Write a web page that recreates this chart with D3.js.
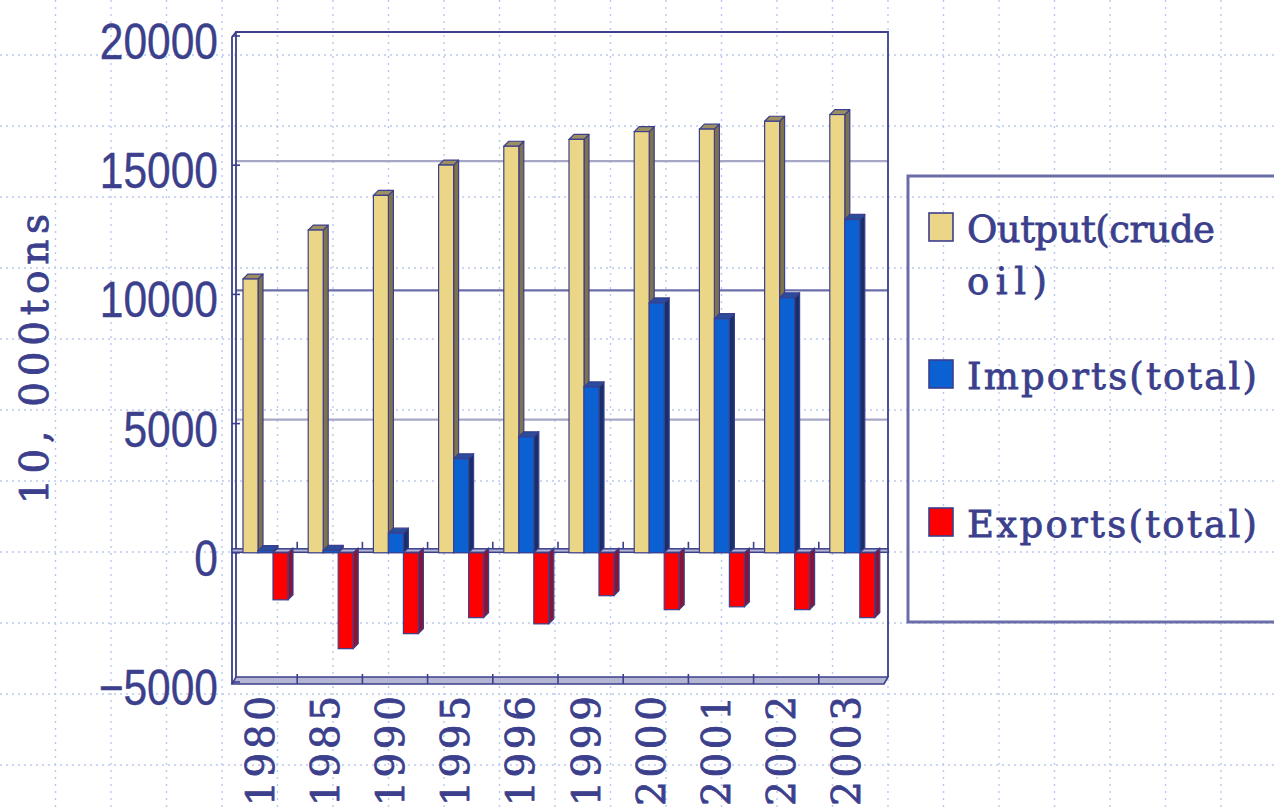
<!DOCTYPE html>
<html>
<head>
<meta charset="utf-8">
<script src="https://cdn.jsdelivr.net/npm/d3@7"></script>
<style>
  html, body { margin: 0; padding: 0; background: #ffffff; overflow: hidden; }
  svg { display: block; }
</style>
</head>
<body>
<svg id="chart" width="1274" height="808"></svg>
<script>
// Crude oil output, imports and exports (10,000 tons)
const years = ["1980", "1985", "1990", "1995", "1996", "1999", "2000", "2001", "2002", "2003"];
const outputCrude = [10595, 12490, 13831, 15005, 15733, 16000, 16300, 16396, 16700, 16960];
const importsTotal = [83, 90, 760, 3640, 4490, 6420, 9670, 9060, 9870, 12900];
const exportsTotal = [-1820, -3710, -3130, -2510, -2750, -1660, -2200, -2090, -2200, -2510];

const seriesKeys = ["output", "imports", "exports"];
const legendLines = [["Output(crude", "oil)"], ["Imports(total)"], ["Exports(total)"]];
const yTicks = [-5000, 0, 5000, 10000, 15000, 20000];
const yTitle = "10, 000tons";

const palette = {
  output:  { front: "#ebd688", side: "#80724c", top: "#9d8f62" },
  imports: { front: "#0b60d2", side: "#16306c", top: "#2a4c9c" },
  exports: { front: "#ff0000", side: "#8a1436", top: "#a42040" }
};
const ink = "#3b3f8c";
const serifFont = "'DejaVu Serif', 'Liberation Serif', serif";

const svg = d3.select("#chart");
const W = 1274, H = 808;

// ---- page background: light blue dotted grid ----
const bg = svg.append("g").attr("class", "page-grid");
const gx = d3.range(1, 23).map(k => 55.5 * k);
const gy = d3.range(0, 11).map(k => 55 + 71 * k);
bg.selectAll("line.v").data(gx).join("line")
  .attr("x1", d => d).attr("x2", d => d).attr("y1", 0).attr("y2", H)
  .attr("stroke", "#b9c9ee").attr("stroke-width", 1.4).attr("stroke-dasharray", "2,5");
bg.selectAll("line.h").data(gy).join("line")
  .attr("y1", d => d).attr("y2", d => d).attr("x1", 0).attr("x2", W)
  .attr("stroke", "#b9c9ee").attr("stroke-width", 1.4).attr("stroke-dasharray", "2,4");

// ---- scales ----
const depth = 5;                 // 3D depth offset of the wall / bars
const wall = { left: 236, right: 888, top: 32, bottom: 678 };
const y = d3.scaleLinear().domain([-5000, 20000]).range([wall.bottom, wall.top]);
const x = d3.scaleBand().domain(years).range([232, 884]).paddingInner(0).paddingOuter(0);
const xs = d3.scaleBand().domain(seriesKeys).range([11, 56]).padding(0);

const plot = svg.append("g").attr("class", "plot");

// back wall gridlines
const gridVals = [5000, 10000, 15000];
plot.selectAll("line.grid").data(gridVals).join("line")
  .attr("x1", wall.left).attr("x2", wall.right)
  .attr("y1", d => y(d)).attr("y2", d => y(d))
  .attr("stroke", d => d === 10000 ? "#6a6ea8" : "#a7a8c8")
  .attr("stroke-width", 2.2);

// floor slab
plot.append("polygon")
  .attr("points", [[232, 684], [884, 684], [888, 677], [236, 677]].map(p => p.join(",")).join(" "))
  .attr("fill", "#b4b5d2").attr("stroke", ink).attr("stroke-width", 1.6);

// wall outline
plot.append("path")
  .attr("d", `M${wall.left},${wall.bottom - 1} V${wall.top} H${wall.right} V${wall.bottom - 1}`)
  .attr("fill", "none").attr("stroke", ink).attr("stroke-width", 1.8);
plot.append("path")
  .attr("d", `M232,684 V${wall.top + 5} L${wall.left},${wall.top}`)
  .attr("fill", "none").attr("stroke", ink).attr("stroke-width", 1.8);

// y axis ticks on the front edge
plot.selectAll("line.ytick").data(yTicks).join("line")
  .attr("x1", 232).attr("x2", 240)
  .attr("y1", d => y(d) + 4).attr("y2", d => y(d) + 4)
  .attr("stroke", ink).attr("stroke-width", 1.6);

// category ticks on the floor
const bounds = years.slice(1).map(c => x(c));
plot.selectAll("line.ftick").data(bounds).join("line")
  .attr("x1", d => d).attr("x2", d => d).attr("y1", 674).attr("y2", 684)
  .attr("stroke", ink).attr("stroke-width", 1.6);

// zero line (category axis)
const y0 = y(0);
plot.append("rect")
  .attr("x", 232).attr("y", y0).attr("width", 656).attr("height", 3.5)
  .attr("fill", "#b4b5d2").attr("stroke", ink).attr("stroke-width", 1.5);
plot.selectAll("line.ztick").data(bounds).join("line")
  .attr("x1", d => d).attr("x2", d => d).attr("y1", y0 - 7).attr("y2", y0)
  .attr("stroke", ink).attr("stroke-width", 1.6);

// ---- 3D bars ----
const rows = years.map((yr, i) => ({
  year: yr,
  output: outputCrude[i],
  imports: importsTotal[i],
  exports: exportsTotal[i]
}));

const bars = plot.append("g").attr("class", "bars");
rows.forEach(r => {
  seriesKeys.forEach(k => {
    const v = r[k];
    const x0 = x(r.year) + xs(k);
    const w = xs.bandwidth();
    const yv = y(v) + 4, yb = y(0) + 4;
    const yt = Math.min(yv, yb), ybot = Math.max(yv, yb);
    const c = palette[k];
    const g = bars.append("g").attr("class", "bar " + k);
    g.append("polygon")
      .attr("points", [[x0 + w, yt], [x0 + w + depth, yt - depth], [x0 + w + depth, ybot - depth], [x0 + w, ybot]].map(p => p.join(",")).join(" "))
      .attr("fill", c.side).attr("stroke", ink).attr("stroke-width", 1.2).attr("stroke-linejoin", "round");
    if (v >= 0) {
      g.append("polygon")
        .attr("points", [[x0, yt], [x0 + depth, yt - depth], [x0 + w + depth, yt - depth], [x0 + w, yt]].map(p => p.join(",")).join(" "))
        .attr("fill", c.top).attr("stroke", ink).attr("stroke-width", 1.2).attr("stroke-linejoin", "round");
    }
    g.append("rect")
      .attr("x", x0).attr("y", yt).attr("width", w).attr("height", Math.max(0.5, ybot - yt))
      .attr("fill", c.front).attr("stroke", ink).attr("stroke-width", 1.2);
  });
});

// ---- y tick labels ----
const yLab = svg.append("g").attr("class", "ylabels");
yLab.selectAll("text").data(yTicks).join("text")
  .attr("transform", d => `translate(218,${y(d) + 27}) scale(0.85,1)`)
  .attr("text-anchor", "end")
  .attr("font-family", "'Liberation Sans', Arial, sans-serif")
  .attr("font-size", 50)
  .attr("fill", ink)
  .attr("stroke", ink).attr("stroke-width", 0.4)
  .text(d => d3.format("d")(d).replace("-", "\u2212"));

// ---- y axis title ----
svg.append("text")
  .attr("transform", "translate(48,504) rotate(-90)")
  .attr("text-anchor", "start")
  .attr("font-family", serifFont)
  .attr("font-size", 39)
  .attr("fill", ink)
  .attr("stroke", ink).attr("stroke-width", 0.8)
  .attr("textLength", 290)
  .attr("lengthAdjust", "spacing")
  .text(yTitle);

// ---- x category labels ----
svg.append("g").attr("class", "xlabels")
  .selectAll("text").data(years).join("text")
  .attr("transform", d => `translate(${x(d) + x.bandwidth() / 2 + 9},806) rotate(-90)`)
  .attr("text-anchor", "start")
  .attr("font-family", serifFont)
  .attr("font-size", 39)
  .attr("fill", ink)
  .attr("stroke", ink).attr("stroke-width", 0.8)
  .attr("textLength", 110)
  .attr("lengthAdjust", "spacing")
  .text(d => d);

// ---- legend ----
const legend = svg.append("g").attr("class", "legend");
legend.append("rect")
  .attr("x", 908).attr("y", 176).attr("width", 400).attr("height", 446)
  .attr("fill", "none").attr("stroke", "#6a6ea8").attr("stroke-width", 3);
const legendY = [213, 360, 508];
seriesKeys.forEach((k, i) => {
  legend.append("rect")
    .attr("x", 929).attr("y", legendY[i]).attr("width", 24).attr("height", 28)
    .attr("fill", palette[k].front).attr("stroke", ink).attr("stroke-width", 1.6);
  legendLines[i].forEach((line, j) => {
    legend.append("text")
      .attr("x", 967).attr("y", legendY[i] + 29 + j * 52)
      .attr("font-family", serifFont)
      .attr("font-size", 37)
      .attr("fill", ink)
      .attr("stroke", ink).attr("stroke-width", 0.8)
      .attr("textLength", line.length * 21 - 4)
      .attr("lengthAdjust", "spacing")
      .text(line);
  });
});
</script>
</body>
</html>
